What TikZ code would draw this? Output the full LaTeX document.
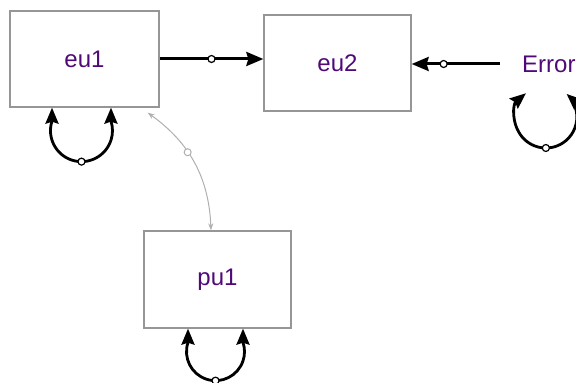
\documentclass[tikz,border=0pt]{standalone}
\usepackage{fontspec}
\setmainfont{Liberation Sans}
\usetikzlibrary{arrows.meta,calc}
\definecolor{txt}{RGB}{80,10,120}
\definecolor{boxgray}{RGB}{150,150,150}
\definecolor{lgray}{RGB}{175,175,175}
\begin{document}
\begin{tikzpicture}[x=1pt,y=1pt,
  varbox/.style={draw=boxgray, line width=1.3pt, fill=white, minimum width=149pt, minimum height=96pt, inner sep=0pt, font=\fontsize{24}{28}\selectfont, text=txt},
  conn/.style={line width=3pt, -{Stealth[length=17pt,width=14pt,inset=2pt]}},
  loopc/.style={line width=2.8pt, {Stealth[length=16pt,width=13pt,inset=2pt]}-{Stealth[length=16pt,width=13pt,inset=2pt]}},
  gconn/.style={draw=lgray, line width=1pt, {Stealth[length=7pt,width=5pt]}-{Stealth[length=7pt,width=5pt]}},
  dot/.style={circle, draw=black, fill=white, line width=1.2pt, minimum size=7pt, inner sep=0pt},
  gdot/.style={circle, draw=lgray, fill=white, line width=1pt, minimum size=7pt, inner sep=0pt}
]
\useasboundingbox (0,0) rectangle (576,383);
\node[varbox] (eu1) at (84.5,324) {eu1};
\node[varbox, minimum width=147pt] (eu2) at (337.5,320) {eu2};
\node[varbox, minimum width=147pt, minimum height=97pt] (pu1) at (217.5,103.5) {pu1};
\node[font=\fontsize{24}{28}\selectfont, text=txt, inner sep=0pt, anchor=west] (err) at (522,319) {Error};

% eu1 -> eu2
\draw[conn] (eu1.east) -- (eu1.east -| eu2.west) node[dot, pos=0.5] (d1) {};
% Error -> eu2
\draw[conn, shorten <=22pt] (err.west) -- (err.west -| eu2.east) node[dot, pos=0.71] (d2) {};
% pu1 <-> eu1
\draw[gconn] ([xshift=-6.5pt]pu1.north) to[bend right=26] node[gdot, pos=0.6] (d3) {} ($(eu1.south east)+(-12,-5)$);

% self loops
\draw[loopc] ([xshift=-32.5pt]eu1.south) -- ++(0,-13.4) arc[start angle=162,end angle=378,radius=31] -- ([xshift=26.5pt]eu1.south);
\node[dot] (d4) at ([xshift=-3pt,yshift=-54pt]eu1.south) {};

\draw[loopc] ([xshift=-29.5pt]pu1.south) -- ++(0,-13.8) arc[start angle=161.5,end angle=378.5,radius=29] -- ([xshift=25.5pt]pu1.south);
\node[dot] (d5) at ([xshift=-2pt,yshift=-52pt]pu1.south) {};

\draw[loopc] ($(err.center)+(-3,-53)$) ++(130:31) arc[start angle=130,end angle=408,radius=31];
\node[dot] (d6) at ($(err.center)+(-3,-84)$) {};
\end{tikzpicture}
\end{document}
